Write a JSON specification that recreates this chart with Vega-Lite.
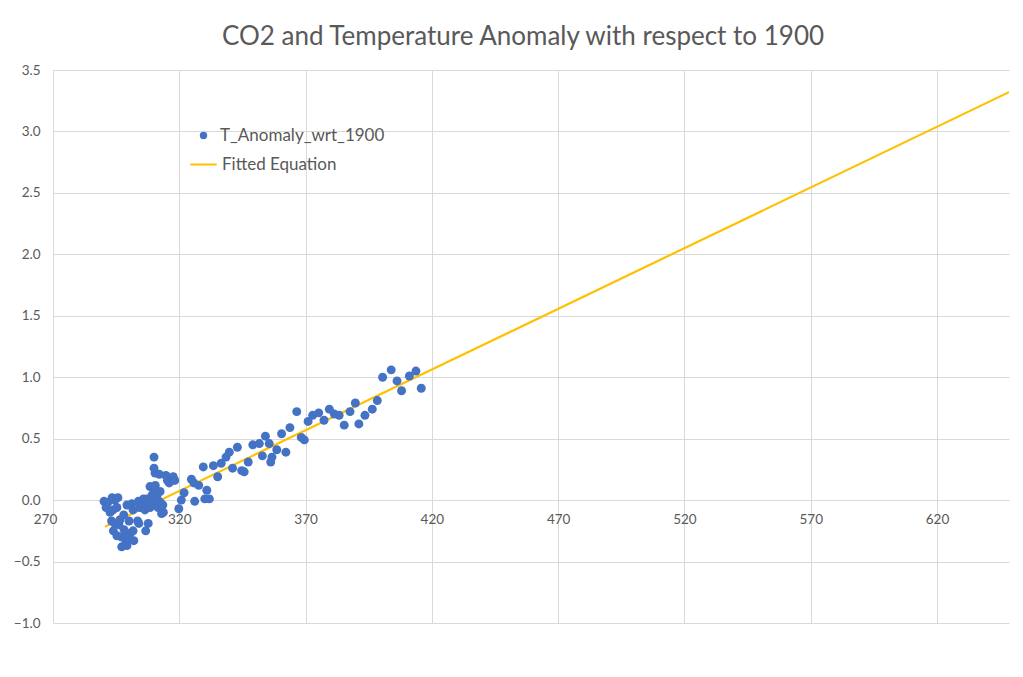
{
  "$schema": "https://vega.github.io/schema/vega-lite/v6.json",
  "width": 956,
  "height": 553,
  "autosize": {"type": "none"},
  "padding": {"left": 53, "top": 70, "right": 14, "bottom": 54},
  "background": "white",
  "config": {
    "view": {"stroke": null},
    "font": "Lato",
    "axis": {"labelColor": "#595959", "labelFont": "Lato", "labelFontSize": 13.5, "gridColor": "#D9D9D9", "gridWidth": 1, "domain": false, "ticks": false, "title": null},
    "legend": {"padding": 0}
  },
  "title": {"text": "CO2 and Temperature Anomaly with respect to 1900", "fontSize": 26, "font": "Lato", "fontWeight": "normal", "color": "#595959", "anchor": "middle", "frame": "group", "dx": -8, "offset": 13},
  "datasets": {
    "obs": [
      {"co2": 290.2, "anomaly": -0.01}, {"co2": 291.0, "anomaly": -0.06}, {"co2": 291.7, "anomaly": -0.02}, {"co2": 292.6, "anomaly": -0.10},
      {"co2": 293.2, "anomaly": -0.17}, {"co2": 293.4, "anomaly": 0.02}, {"co2": 293.8, "anomaly": -0.08}, {"co2": 293.9, "anomaly": -0.25},
      {"co2": 294.5, "anomaly": 0.00}, {"co2": 294.5, "anomaly": -0.19}, {"co2": 295.3, "anomaly": -0.06}, {"co2": 295.3, "anomaly": -0.29},
      {"co2": 295.7, "anomaly": 0.02}, {"co2": 296.1, "anomaly": -0.20}, {"co2": 296.5, "anomaly": -0.16}, {"co2": 297.2, "anomaly": -0.30},
      {"co2": 297.2, "anomaly": -0.38}, {"co2": 298.0, "anomaly": -0.12}, {"co2": 298.1, "anomaly": -0.24}, {"co2": 299.0, "anomaly": -0.34},
      {"co2": 299.3, "anomaly": -0.30}, {"co2": 299.3, "anomaly": -0.04}, {"co2": 299.3, "anomaly": -0.37}, {"co2": 300.1, "anomaly": -0.17},
      {"co2": 300.6, "anomaly": -0.27}, {"co2": 301.2, "anomaly": -0.03}, {"co2": 301.7, "anomaly": -0.08}, {"co2": 301.7, "anomaly": -0.25},
      {"co2": 302.0, "anomaly": -0.33}, {"co2": 303.5, "anomaly": -0.17}, {"co2": 303.8, "anomaly": -0.01}, {"co2": 304.0, "anomaly": -0.19},
      {"co2": 304.4, "anomaly": -0.06}, {"co2": 305.5, "anomaly": -0.03}, {"co2": 305.8, "anomaly": 0.01}, {"co2": 306.4, "anomaly": -0.08},
      {"co2": 306.7, "anomaly": -0.25}, {"co2": 307.1, "anomaly": 0.01}, {"co2": 307.7, "anomaly": -0.02}, {"co2": 307.7, "anomaly": -0.19},
      {"co2": 308.4, "anomaly": -0.06}, {"co2": 308.4, "anomaly": 0.11}, {"co2": 309.2, "anomaly": 0.04}, {"co2": 309.7, "anomaly": 0.00},
      {"co2": 309.7, "anomaly": 0.09}, {"co2": 310.0, "anomaly": 0.35}, {"co2": 310.0, "anomaly": 0.26}, {"co2": 310.0, "anomaly": -0.03},
      {"co2": 310.1, "anomaly": 0.06}, {"co2": 310.4, "anomaly": 0.22}, {"co2": 310.5, "anomaly": 0.12}, {"co2": 311.1, "anomaly": 0.05},
      {"co2": 311.2, "anomaly": 0.02}, {"co2": 311.5, "anomaly": -0.02}, {"co2": 311.6, "anomaly": -0.06}, {"co2": 312.1, "anomaly": 0.21},
      {"co2": 312.4, "anomaly": 0.07}, {"co2": 312.6, "anomaly": -0.02}, {"co2": 313.0, "anomaly": -0.11}, {"co2": 313.5, "anomaly": -0.04},
      {"co2": 313.7, "anomaly": -0.10}, {"co2": 314.7, "anomaly": 0.20}, {"co2": 315.3, "anomaly": 0.16}, {"co2": 316.0, "anomaly": 0.14},
      {"co2": 317.6, "anomaly": 0.19}, {"co2": 318.2, "anomaly": 0.16}, {"co2": 319.8, "anomaly": -0.07}, {"co2": 320.8, "anomaly": 0.00},
      {"co2": 321.9, "anomaly": 0.06}, {"co2": 324.8, "anomaly": 0.17}, {"co2": 325.8, "anomaly": 0.14}, {"co2": 326.1, "anomaly": -0.01},
      {"co2": 327.7, "anomaly": 0.12}, {"co2": 329.5, "anomaly": 0.27}, {"co2": 330.1, "anomaly": 0.01}, {"co2": 330.9, "anomaly": 0.08},
      {"co2": 331.9, "anomaly": 0.01}, {"co2": 333.5, "anomaly": 0.28}, {"co2": 335.2, "anomaly": 0.19}, {"co2": 336.6, "anomaly": 0.30},
      {"co2": 338.5, "anomaly": 0.35}, {"co2": 339.8, "anomaly": 0.39}, {"co2": 341.1, "anomaly": 0.26}, {"co2": 343.0, "anomaly": 0.43},
      {"co2": 344.7, "anomaly": 0.24}, {"co2": 345.7, "anomaly": 0.23}, {"co2": 347.3, "anomaly": 0.31}, {"co2": 349.1, "anomaly": 0.45},
      {"co2": 351.7, "anomaly": 0.46}, {"co2": 352.9, "anomaly": 0.36}, {"co2": 354.1, "anomaly": 0.52}, {"co2": 355.6, "anomaly": 0.46},
      {"co2": 356.2, "anomaly": 0.31}, {"co2": 356.7, "anomaly": 0.35}, {"co2": 358.6, "anomaly": 0.41}, {"co2": 360.5, "anomaly": 0.54},
      {"co2": 362.2, "anomaly": 0.39}, {"co2": 363.8, "anomaly": 0.59}, {"co2": 366.5, "anomaly": 0.72}, {"co2": 368.3, "anomaly": 0.51},
      {"co2": 369.5, "anomaly": 0.49}, {"co2": 371.0, "anomaly": 0.64}, {"co2": 372.8, "anomaly": 0.69}, {"co2": 375.2, "anomaly": 0.71},
      {"co2": 377.3, "anomaly": 0.65}, {"co2": 379.4, "anomaly": 0.74}, {"co2": 381.4, "anomaly": 0.70}, {"co2": 383.3, "anomaly": 0.69},
      {"co2": 385.3, "anomaly": 0.61}, {"co2": 387.6, "anomaly": 0.72}, {"co2": 389.7, "anomaly": 0.79}, {"co2": 391.1, "anomaly": 0.62},
      {"co2": 393.5, "anomaly": 0.69}, {"co2": 396.4, "anomaly": 0.74}, {"co2": 398.4, "anomaly": 0.81}, {"co2": 400.5, "anomaly": 1.00},
      {"co2": 403.9, "anomaly": 1.06}, {"co2": 406.2, "anomaly": 0.97}, {"co2": 408.0, "anomaly": 0.89}, {"co2": 411.1, "anomaly": 1.01},
      {"co2": 413.7, "anomaly": 1.05}, {"co2": 415.8, "anomaly": 0.91}
    ],
    "fit": [
      {"co2": 290.6, "fit": -0.216},
      {"co2": 420.0, "fit": 1.062},
      {"co2": 648.5, "fit": 3.320}
    ]
  },
  "layer": [
    {
      "data": {"name": "fit"},
      "mark": {"type": "line", "strokeWidth": 2.2, "clip": true},
      "encoding": {
        "x": {"field": "co2", "type": "quantitative", "scale": {"domain": [270, 648.5], "nice": false, "zero": false},
          "axis": {"values": [270, 320, 370, 420, 470, 520, 570, 620], "offset": -123, "labelPadding": 12, "grid": true, "labelFlush": false,
            "labelOffset": {"expr": "datum.value == 270 ? -8 : 0"}}},
        "y": {"field": "fit", "type": "quantitative", "scale": {"domain": [-1, 3.5], "nice": false, "zero": false},
          "axis": {"values": [-1, -0.5, 0, 0.5, 1, 1.5, 2, 2.5, 3, 3.5], "format": ".1f", "labelPadding": 13, "grid": true, "labelFlush": false}},
        "stroke": {"datum": "Fitted Equation", "type": "nominal",
          "scale": {"domain": ["Fitted Equation"], "range": ["#FFC000"]},
          "legend": {"title": null, "orient": "none", "legendX": 136, "legendY": 80, "labelFont": "Lato", "labelFontSize": 17, "labelColor": "#595959", "labelOffset": 4, "labelLimit": 400, "symbolType": "stroke", "symbolSize": 700, "symbolStrokeWidth": 2}}
      }
    },
    {
      "data": {"name": "obs"},
      "mark": {"type": "point", "filled": true, "opacity": 1, "size": 80, "shape": "circle"},
      "encoding": {
        "x": {"field": "co2", "type": "quantitative"},
        "y": {"field": "anomaly", "type": "quantitative"},
        "fill": {"datum": "T_Anomaly_wrt_1900", "type": "nominal",
          "scale": {"domain": ["T_Anomaly_wrt_1900"], "range": ["#4472C4"]},
          "legend": {"title": null, "orient": "none", "legendX": 142, "legendY": 57, "labelFont": "Lato", "labelFontSize": 17, "labelColor": "#595959", "labelOffset": 8, "labelLimit": 400, "symbolType": "circle", "symbolSize": 55, "symbolStrokeWidth": 0}}
      }
    }
  ]
}
